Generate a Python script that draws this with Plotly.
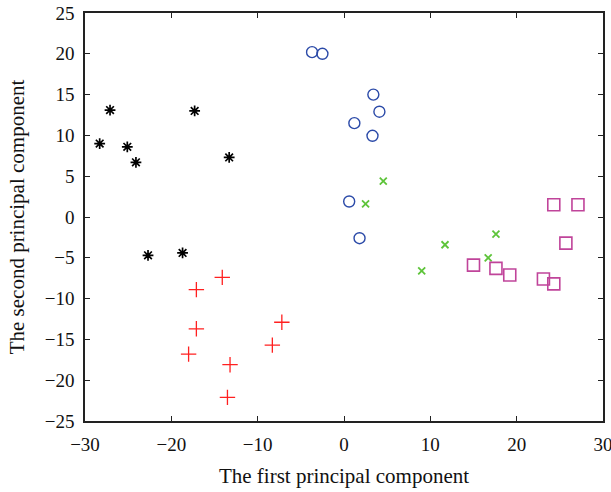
import plotly.graph_objects as go

# Scores on the first two principal components, grouped by class
g1_x = [-28.3, -27.1, -25.1, -24.1, -17.3, -13.3, -22.7, -18.7]
g1_y = [9.0, 13.1, 8.6, 6.7, 13.0, 7.3, -4.7, -4.4]

g2_x = [-14.1, -17.1, -17.1, -18.0, -13.2, -13.5, -7.2, -8.3]
g2_y = [-7.4, -8.9, -13.7, -16.8, -18.1, -22.1, -12.9, -15.7]

g3_x = [-3.7, -2.5, 3.4, 4.1, 1.2, 3.3, 0.6, 1.8]
g3_y = [20.2, 20.0, 15.0, 12.9, 11.5, 9.95, 1.9, -2.6]

g4_x = [4.55, 2.5, 11.7, 17.6, 16.7, 9.0]
g4_y = [4.4, 1.6, -3.4, -2.1, -5.0, -6.6]

g5_x = [24.3, 27.1, 25.7, 15.0, 17.6, 19.2, 23.1, 24.3]
g5_y = [1.5, 1.5, -3.2, -5.9, -6.3, -7.1, -7.6, -8.2]

x_ticks = [-30, -20, -10, 0, 10, 20, 30]
y_ticks = [-25, -20, -15, -10, -5, 0, 5, 10, 15, 20, 25]

fig = go.Figure()

def add_group(xs, ys, symbol, color, size, width):
    fig.add_trace(go.Scatter(
        x=xs, y=ys, mode="markers",
        marker=dict(symbol=symbol, size=size, color=color,
                    line=dict(color=color, width=width)),
        showlegend=False,
    ))

add_group(g1_x, g1_y, "asterisk-open", "#000000", 9, 1.7)
add_group(g2_x, g2_y, "cross-thin-open", "#ff2020", 11, 1.3)
add_group(g3_x, g3_y, "circle-open", "#2b4aa8", 11, 1.4)
add_group(g4_x, g4_y, "x-thin-open", "#5ec43a", 7, 1.8)
add_group(g5_x, g5_y, "square-open", "#c0449a", 12, 1.6)

font_family = "Liberation Serif, Times New Roman, serif"
title_font = dict(family=font_family, size=21, color="#111111")

axis_common = dict(
    showgrid=False, zeroline=False, automargin=False,
    showline=True, linecolor="#222222", linewidth=1.5,
    mirror="ticks", ticks="inside", ticklen=5, tickwidth=1.2,
    tickcolor="#222222", ticklabeloverflow="allow",
    tickfont=dict(family=font_family, size=19, color="#111111"),
)

fig.update_xaxes(
    range=[-30, 30], tickvals=x_ticks,
    ticktext=[str(v).replace("-", "\u2212") for v in x_ticks],
    ticklabelstandoff=5,
    title=dict(text="The first principal component", font=title_font,
               standoff=15),
    **axis_common,
)
fig.update_yaxes(
    range=[-25, 25], tickvals=y_ticks,
    ticktext=[str(v).replace("-", "\u2212") for v in y_ticks],
    ticklabelstandoff=5,
    title=dict(text="The second principal component", font=title_font,
               standoff=14),
    **axis_common,
)

fig.update_layout(
    width=611, height=492,
    margin=dict(l=85, r=8, t=13, b=71),
    plot_bgcolor="white", paper_bgcolor="white",
)

fig.write_html("out.html")
